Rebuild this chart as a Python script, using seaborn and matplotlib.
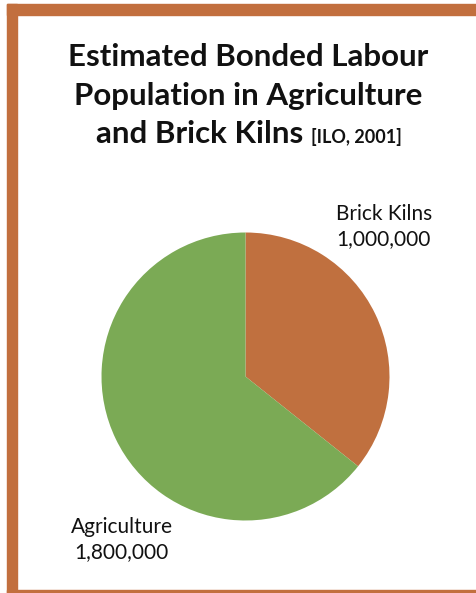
import matplotlib
matplotlib.use("Agg")
import matplotlib.pyplot as plt
import matplotlib.patches as mpatches
import seaborn as sns

# data
categories = ["Brick Kilns", "Agriculture"]
values = [1000000, 1800000]
colors = ["#C0703F", "#7BAA55"]

sns.set_theme(style="white")
plt.rcParams['font.family'] = ['Lato', 'DejaVu Sans']

W, H = 476, 593
fig = plt.figure(figsize=(W / 100, H / 100), dpi=100)
fig.patch.set_facecolor("white")

# frame border (left, top, bottom)
border = "#C26F3E"
fig.patches.append(mpatches.Rectangle((7 / W, 0), 10 / W, 1 - 4 / H, transform=fig.transFigure,
                                      color=border, zorder=0))
fig.patches.append(mpatches.Rectangle((7 / W, 1 - 15 / H), 1, 11 / H, transform=fig.transFigure,
                                      color=border, zorder=0))
fig.patches.append(mpatches.Rectangle((7 / W, 0), 1, 3 / H, transform=fig.transFigure,
                                      color=border, zorder=0))

cx, cy, r = 245.5, 376.5, 144
ax = fig.add_axes([(cx - r) / W, (H - cy - r) / H, 2 * r / W, 2 * r / H])
ax.pie(values, colors=colors, startangle=90, counterclock=False,
       wedgeprops=dict(linewidth=0))
ax.set_xlim(-1, 1)
ax.set_ylim(-1, 1)
ax.set_aspect("equal")
ax.axis("off")

# slice labels
lab_pos = {"Brick Kilns": (0.96, 1.04), "Agriculture": (-0.86, -1.13)}
for cat, val in zip(categories, values):
    x, y = lab_pos[cat]
    ax.text(x, y, f"{cat}\n{val:,}", ha="center", va="center", fontsize=15,
            linespacing=1.3, color="#111111", clip_on=False)

# title
tcol = "#111111"
fig.text(248 / W, 1 - 57 / H, "Estimated Bonded Labour", ha="center", va="center",
         fontsize=22.5, fontweight="bold", color=tcol)
fig.text(248 / W, 1 - 96 / H, "Population in Agriculture", ha="center", va="center",
         fontsize=22.5, fontweight="bold", color=tcol)
t1 = fig.text(0, 1 - 134 / H, "and Brick Kilns ", ha="left", va="center",
              fontsize=22.5, fontweight="bold", color=tcol)
t2 = fig.text(0, 1 - 134 / H, "[ILO, 2001]", ha="left", va="center",
              fontsize=13, fontweight="bold", color=tcol)
fig.canvas.draw()
rend = fig.canvas.get_renderer()
w1 = t1.get_window_extent(rend).width
w2 = t2.get_window_extent(rend).width
x0 = 249 - (w1 + w2) / 2
t1.set_x(x0 / W)
t2.set_x((x0 + w1) / W)
t2.set_y(1 - 137 / H)

fig.savefig("out.png", dpi=100)
